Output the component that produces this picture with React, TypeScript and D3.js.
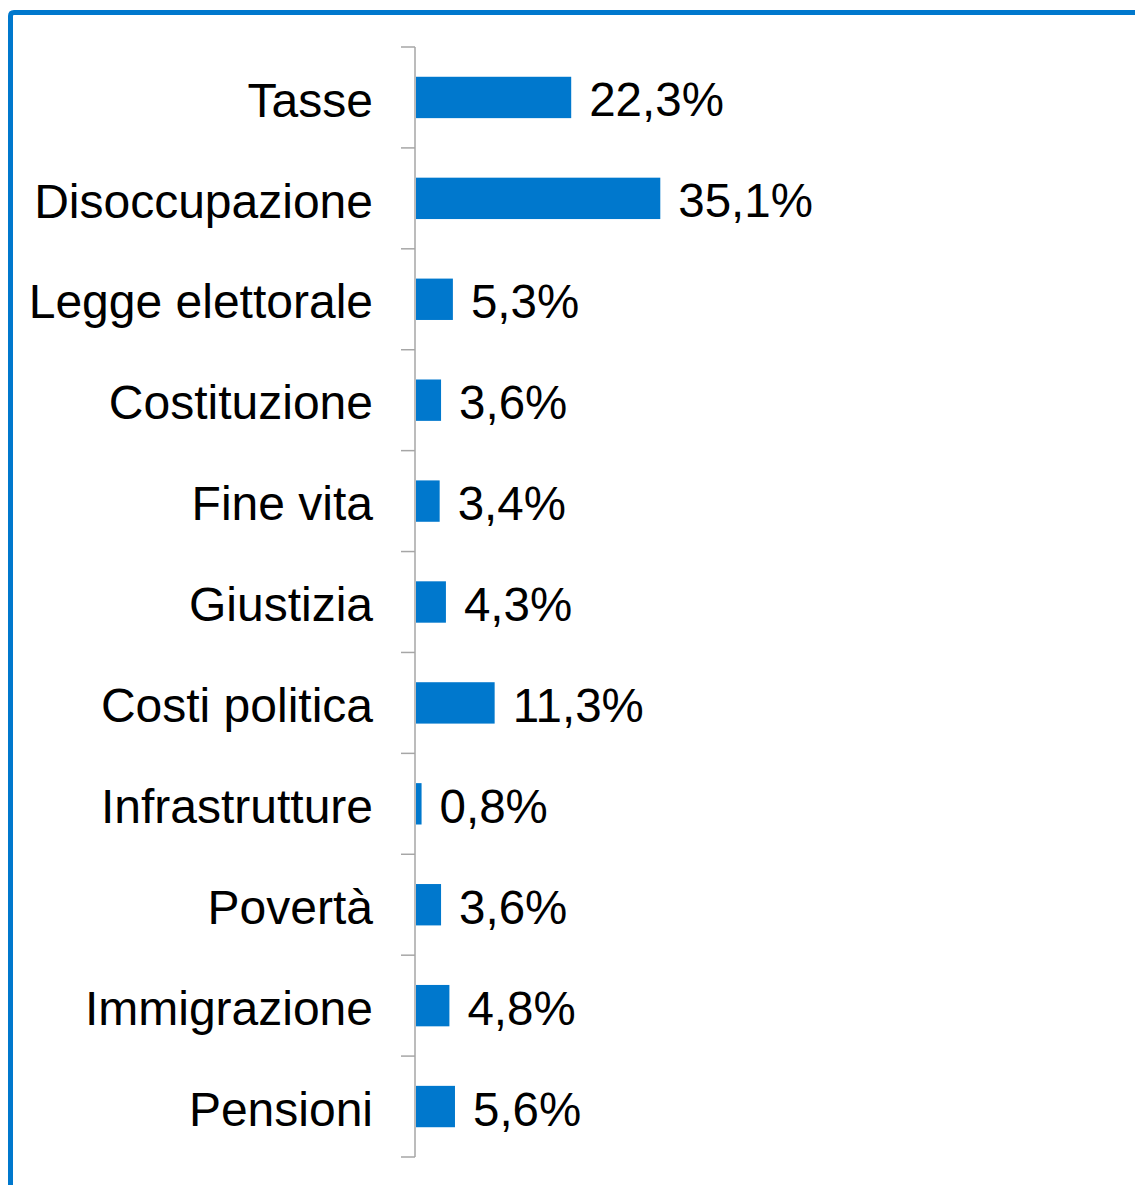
import React from "react";
import * as d3 from "d3";

const categories = [
  "Tasse",
  "Disoccupazione",
  "Legge elettorale",
  "Costituzione",
  "Fine vita",
  "Giustizia",
  "Costi politica",
  "Infrastrutture",
  "Povertà",
  "Immigrazione",
  "Pensioni",
];
const values = [22.3, 35.1, 5.3, 3.6, 3.4, 4.3, 11.3, 0.8, 3.6, 4.8, 5.6];
const valueLabels = ["22,3%", "35,1%", "5,3%", "3,6%", "3,4%", "4,3%", "11,3%", "0,8%", "3,6%", "4,8%", "5,6%"];

const W = 1135;
const H = 1185;
const axisX = 415;
const top = 47;
const bottom = 1157;
const BLUE = "#0078CD";
const FONT = "'Liberation Sans', Arial, sans-serif";

export default function App() {
  const y = d3.scaleBand<string>().domain(categories).range([top, bottom]).paddingInner(0.59).paddingOuter(0.295);
  const yb = d3.scaleBand<string>().domain(categories).range([top, bottom]);
  const x = d3.scaleLinear().domain([0, 100]).range([axisX, axisX + 696]);
  const ticks = d3.range(categories.length + 1).map((i) => top + i * yb.step());

  return (
    <svg width={W} height={H} style={{ position: "absolute", left: 0, top: 0 }}>
      <rect x={0} y={0} width={W} height={H} fill="#fff" />
      <path d={`M10.5,${H} L10.5,16 Q10.5,12.5 14,12.5 L${W},12.5`} fill="none" stroke={BLUE} strokeWidth={5} />
      <g>
        <line x1={axisX} x2={axisX} y1={top} y2={bottom} stroke="#a6a6a6" strokeWidth={1.5} />
        {ticks.map((t, i) => (
          <line key={i} x1={401} x2={axisX} y1={t} y2={t} stroke="#a6a6a6" strokeWidth={1.5} />
        ))}
      </g>
      {categories.map((c, i) => {
        const by = y(c)!;
        const bh = y.bandwidth();
        const cy = yb(c)! + yb.bandwidth() / 2;
        return (
          <g key={c}>
            <rect x={x(0) + 1} y={by} width={x(values[i]) - x(0)} height={bh} fill={BLUE} />
            <text x={373} y={cy} dy="0.4em" textAnchor="end" fontFamily={FONT} fontSize={48} fill="#000">
              {c}
            </text>
            <text x={x(values[i]) + 19} y={cy} dy="0.4em" textAnchor="start" fontFamily={FONT} fontSize={47.5} fill="#000">
              {valueLabels[i]}
            </text>
          </g>
        );
      })}
    </svg>
  );
}
